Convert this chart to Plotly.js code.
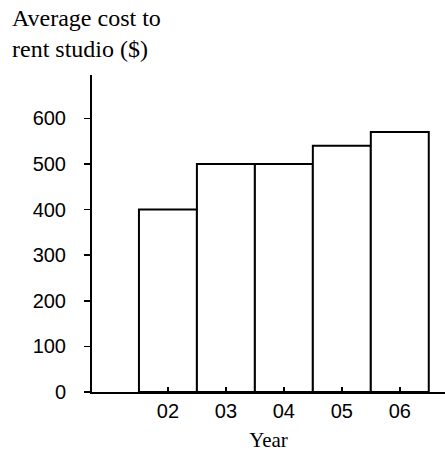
<!DOCTYPE html>
<html>
<head>
<meta charset="utf-8">
<script src="https://cdn.plot.ly/plotly-3.0.1.min.js"></script>
<style>html,body{margin:0;padding:0;background:#fff;}#chart{width:445px;height:456px;}</style>
</head>
<body>
<div id="chart"></div>
<script>
const years = ["02", "03", "04", "05", "06"];
const avgCost = [400, 500, 500, 540, 570];
const yTicks = [0, 100, 200, 300, 400, 500, 600];
const titleText = "Average cost to<br>rent studio ($)";
const xTitle = "Year";

const trace = {
  type: "bar",
  x: years,
  y: avgCost,
  width: 1,
  marker: { color: "#ffffff", line: { color: "#000000", width: 2 } },
  hoverinfo: "skip"
};

const L = 92, T = 75, B = 64, W = 445, H = 456;
const plotW = W - L, plotH = H - T - B;

const layout = {
  width: W,
  height: H,
  margin: { l: L, r: 0, t: T, b: B },
  paper_bgcolor: "#ffffff",
  plot_bgcolor: "#ffffff",
  showlegend: false,
  bargap: 0,
  annotations: [{
    text: titleText,
    showarrow: false,
    xref: "paper", yref: "paper",
    x: (10 - L) / plotW, xanchor: "left",
    y: (H - B - 3) / plotH, yanchor: "top",
    align: "left",
    font: { family: "Liberation Serif", size: 24, color: "#000" }
  }],
  xaxis: {
    type: "category",
    range: [-1.31, 4.78],
    showgrid: false,
    zeroline: false,
    showline: true,
    linecolor: "#000",
    linewidth: 2,
    ticks: "inside",
    ticklen: 5,
    tickwidth: 1.5,
    tickcolor: "#000",
    tickfont: { family: "Liberation Sans", size: 20, color: "#000" },
    title: { text: xTitle, font: { family: "Liberation Serif", size: 21, color: "#000" }, standoff: 11 }
  },
  yaxis: {
    range: [0, 695],
    tickvals: yTicks,
    ticktext: yTicks.map(String),
    showgrid: false,
    zeroline: false,
    showline: true,
    linecolor: "#000",
    linewidth: 2,
    ticks: "outside",
    ticklen: 6,
    tickwidth: 1.5,
    tickcolor: "#000",
    ticklabelstandoff: 14,
    tickfont: { family: "Liberation Sans", size: 20, color: "#000" }
  }
};

Plotly.newPlot("chart", [trace], layout, { staticPlot: true, displayModeBar: false });
</script>
</body>
</html>
